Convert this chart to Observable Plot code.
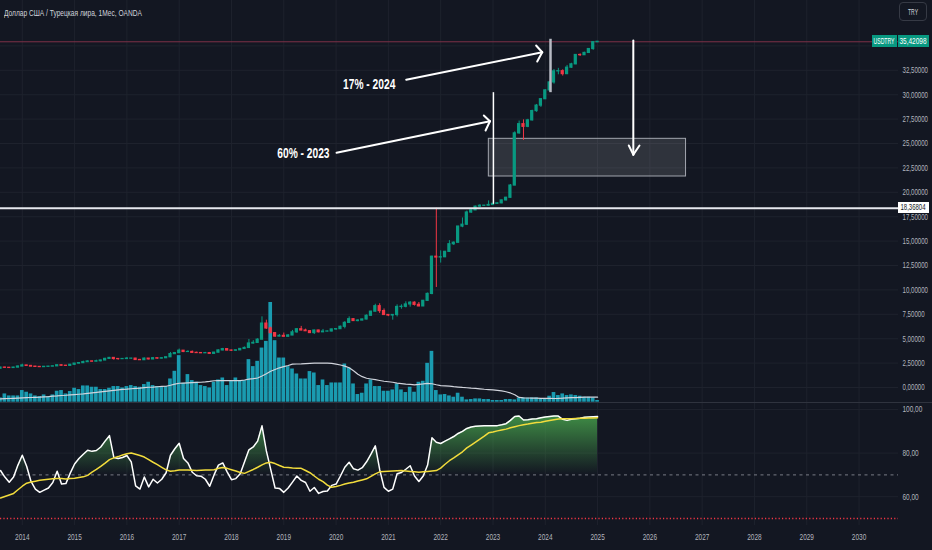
<!DOCTYPE html>
<html><head><meta charset="utf-8">
<script src="https://cdn.jsdelivr.net/npm/d3@7"></script>
<script src="https://cdn.jsdelivr.net/npm/@observablehq/plot@0.6"></script>
<style>
html,body{margin:0;padding:0;background:#131722;}
#chart{position:relative;width:932px;height:550px;background:#131722;overflow:hidden;}
.box{position:absolute;white-space:nowrap;overflow:visible;}
.box span{position:absolute;top:0;white-space:nowrap;}
</style></head>
<body><div id="chart"></div>
<script>
// ---------- DATA (monthly bars, index 0 = Jan 2014, first bar = Aug 2013) ----------
const START = -5;
const yearLabels = [2014,2015,2016,2017,2018,2019,2020,2021,2022,2023,2024,2025,2026,2027,2028,2029,2030];
const yearTickM  = [0,12,24,36,48,60,72,84,96,108,120,132,144,156,168,180,192];
const priceTicks = [0,2.5,5,7.5,10,12.5,15,17.5,20,22.5,25,27.5,30,32.5,35];
const priceLabelTicks = [0,2.5,5,7.5,10,12.5,15,17.5,20,22.5,25,27.5,30,32.5];
const rsiTicks = [60,80,100];

const opens = [1.93,2.04,2.02,2.00,2.04,
 2.15,2.26,2.21,2.14,2.11,2.09,2.12,2.14,2.17,2.28,2.23,2.22,
 2.33,2.45,2.50,2.60,2.67,2.65,2.69,2.77,2.93,3.03,2.92,2.91,
 2.92,2.96,2.96,2.82,2.80,2.96,2.88,3.00,2.96,3.00,3.10,3.42,
 3.52,3.77,3.64,3.64,3.55,3.53,3.51,3.52,3.45,3.57,3.80,3.93,
 3.79,3.77,3.81,3.95,4.05,4.51,4.57,4.90,6.55,6.05,5.57,5.22,
 5.29,5.20,5.33,5.65,5.97,5.84,5.77,5.58,5.84,5.66,5.73,5.74,
 5.95,5.98,6.22,6.62,7.00,6.81,6.86,6.97,7.35,7.77,8.33,7.83,
 7.43,7.38,7.43,8.25,8.27,8.51,8.69,8.47,8.31,8.88,9.59,13.40,
 13.32,13.35,13.90,14.68,14.83,16.49,16.68,17.93,18.15,18.53,18.62,18.63,
 18.70,18.82,18.87,19.17,19.44,20.69,26.04,26.98,26.71,27.37,28.32,28.88,
 29.54,30.44,31.26,32.39,32.41,32.11,32.77,33.11,34.07,34.05,34.28,34.68,
 35.38];
const highs = [2.07,2.08,2.03,2.07,2.20,
 2.39,2.27,2.26,2.16,2.12,2.14,2.16,2.19,2.29,2.30,2.26,2.36,
 2.46,2.52,2.70,2.74,2.72,2.80,2.80,3.00,3.08,3.05,2.93,2.97,
 3.08,2.99,2.98,2.88,3.02,2.97,3.08,3.01,3.04,3.12,3.59,3.59,
 3.94,3.78,3.77,3.74,3.62,3.56,3.60,3.59,3.60,3.85,4.01,3.95,
 3.83,3.83,3.98,4.15,4.92,4.80,5.00,7.24,6.90,6.18,5.62,5.43,
 5.58,5.42,5.85,6.02,6.26,5.98,5.80,5.87,5.86,5.95,5.79,5.98,
 6.01,6.29,6.75,7.24,7.05,6.95,7.01,7.44,7.81,8.53,8.58,8.05,
 7.48,7.47,8.47,8.47,8.78,8.80,8.77,8.71,8.92,9.68,13.45,18.36804,
 14.00,13.95,15.05,14.92,16.51,17.37,18.08,18.18,18.58,18.73,18.66,19.12,
 18.85,18.91,19.20,19.49,20.80,26.20,27.30,27.42,27.48,28.41,29.00,29.60,
 30.51,31.30,32.58,32.70,32.55,33.00,33.22,34.10,34.18,34.35,34.71,35.44,
 35.45];
const lows = [1.92,1.97,1.96,1.98,2.02,
 2.14,2.18,2.14,2.09,2.06,2.07,2.10,2.13,2.15,2.20,2.19,2.20,
 2.25,2.40,2.48,2.58,2.59,2.63,2.63,2.75,2.93,2.80,2.80,2.87,
 2.91,2.89,2.82,2.78,2.80,2.83,2.85,2.90,2.93,2.98,3.09,3.38,
 3.52,3.58,3.59,3.54,3.49,3.48,3.50,3.42,3.39,3.55,3.76,3.76,
 3.70,3.73,3.80,3.93,4.05,4.45,4.55,4.90,5.95,5.57,5.13,5.20,
 5.17,5.18,5.32,5.56,5.81,5.73,5.55,5.43,5.60,5.62,5.70,5.70,
 5.86,5.96,6.01,6.56,6.76,6.73,6.84,6.93,7.31,7.74,7.59,7.40,
 7.26,6.90,7.23,8.02,8.16,8.23,8.35,8.28,8.29,8.86,9.50,10.25,
 12.75,13.30,13.85,14.55,14.80,16.37,16.60,17.84,18.14,18.47,18.56,18.60,
 18.69,18.81,18.83,19.12,19.40,20.68,25.95,25.32,26.62,27.30,28.20,28.70,
 29.50,30.36,31.08,32.04,31.91,32.06,32.70,33.08,33.92,34.03,34.22,34.55,
 35.35];
const closes = [2.04,2.02,2.00,2.04,2.15,
 2.26,2.21,2.14,2.11,2.09,2.12,2.14,2.17,2.28,2.23,2.22,2.33,
 2.45,2.50,2.60,2.67,2.65,2.69,2.77,2.93,3.03,2.92,2.91,2.92,
 2.96,2.96,2.82,2.80,2.96,2.88,3.00,2.96,3.00,3.10,3.42,3.52,
 3.77,3.64,3.64,3.55,3.53,3.51,3.52,3.45,3.57,3.80,3.93,3.79,
 3.77,3.81,3.95,4.05,4.51,4.57,4.90,6.55,6.05,5.57,5.22,5.29,
 5.20,5.33,5.65,5.97,5.84,5.77,5.58,5.84,5.66,5.73,5.74,5.95,
 5.98,6.22,6.62,7.00,6.81,6.86,6.97,7.35,7.77,8.33,7.83,7.43,
 7.38,7.43,8.25,8.27,8.51,8.69,8.47,8.31,8.88,9.59,13.40,13.32,
 13.35,13.90,14.68,14.83,16.49,16.68,17.93,18.15,18.53,18.62,18.63,18.70,
 18.82,18.87,19.17,19.44,20.69,26.04,26.98,26.71,27.37,28.32,28.88,29.54,
 30.44,31.26,32.39,32.41,32.11,32.77,33.11,34.07,34.05,34.28,34.68,35.38,
 35.42098];
// volume, relative units (largest bar = 100)
const volumes = [4.3,8.3,6.3,6.3,6.3,
 11.7,10,8.3,6.3,5.7,7.3,5.7,7.3,11,11.7,8.3,10.7,
 14,12.7,16.3,16.3,15,15,12.7,12.7,14,15.7,15.7,14.3,
 15.7,16.7,15.7,15,17.7,20,16.7,15.7,15.7,15.7,23.3,31,
 46.7,19,27.7,21.7,20,16.7,15.7,14.3,20,22.3,24.3,16.7,
 21,24.3,21,21.7,42.7,35.7,41,54.3,61,100,61.7,44.3,
 44.3,35.7,33.3,28.3,23.3,23.3,30.7,29.3,16.7,22.3,16.7,19.3,
 19.3,19.3,38.3,34.3,18.3,7.7,9,18.3,22.3,15.7,15.7,11,
 11,12.3,18.3,12.3,9.7,15,10,20,21,39,51,11.7,
 7.3,7.7,6.3,5,9,5,2.3,2.7,3.3,3.3,2.7,2.7,
 1.7,1.7,1.7,2.7,2.7,2.3,4.3,4.3,4,4.3,4.3,3.3,
 3.3,6,9.7,6.7,8.3,6.7,7.3,6.7,6,5,5,4.3,
 1.7];
const volumeMA = [3.3,3.5,3.7,3.9,4.1,
 4.3,4.5,4.7,4.9,5.1,5.4,5.6,6.0,6.3,6.7,7.0,7.4,
 7.7,8.0,8.3,8.8,9.3,9.8,10.4,10.9,11.4,11.9,12.4,12.8,
 13.1,13.5,13.9,14.2,14.6,15.0,15.2,15.5,15.8,16.0,17.0,18.2,
 19.0,19.2,19.4,19.6,19.8,20.0,20.4,20.9,21.5,21.7,21.7,21.7,
 21.7,21.7,21.7,22.3,23.1,23.6,24.3,26.3,28.5,31.0,32.8,34.5,
 35.7,36.8,38.2,38.3,38.4,38.7,39.0,39.2,39.3,39.2,39.1,39.0,
 38.2,37.3,36.2,34.6,31.5,28.0,25.6,24.0,23.3,22.6,21.8,21.0,
 20.5,20.0,19.1,18.7,18.2,17.8,17.4,17.8,18.3,18.9,18.5,17.5,
 16.7,16.4,16.1,15.6,15.2,14.8,14.5,14.1,13.8,13.4,13.0,12.7,
 12.3,11.8,11.3,10.5,9.3,7.5,4.8,4.3,4.2,4.1,4.0,3.9,
 3.8,3.8,3.7,3.8,4.0,4.3,4.5,4.6,4.8,5.0,5.0,5.0,
 5.0];
const rsiValues = [72,69,66.6,69,74.5,
 79,74,67,63.5,62,63,64,66.5,71.7,65.8,66,70.8,
 75,77.5,79.5,81.3,80.8,81.2,82.8,85.5,88,78,77.5,78,
 78.9,76,65,63.5,69,64.5,68,66.3,68,71,79,82,
 84.5,77.5,75.5,71.2,69.6,69.4,68,64.8,70,74.5,75.5,71.4,
 67.8,68.3,70.5,76,81.5,82.8,85.5,92.5,81,72.5,64,63.8,
 62,64,66.7,69.5,67.5,66.5,62.5,64.2,61.5,62.4,62.6,65.2,
 65.8,69.5,73.5,75.8,72.8,72.2,73.3,76,79.5,83.3,72.5,64.3,
 62.5,63.5,70.5,71.1,72.6,74.2,69.5,67,69.5,74.5,87,85,
 84.4,85.5,86.5,87.6,89,90,91.3,92,92.3,92.4,92.5,92.5,
 92.6,92.6,93,93.5,95,96.8,97,95.2,95.3,95.6,95.8,96.2,
 96.6,96.8,97,97,95.5,95,95.5,95.8,96,96.5,96.6,96.7,
 96.8];
const rsiMA = [59.4,60.1,60.8,61.5,63.2,
 64.8,66.2,66.7,67.1,67.5,67.8,68.0,68.2,68.4,68.3,68.1,68.3,
 68.5,68.8,69.1,69.8,71.3,72.5,73.9,75.4,77.0,77.8,78.4,79.1,
 79.7,80.0,79.5,78.9,78.2,77.0,75.8,74.7,73.5,72.3,71.7,71.9,
 72.2,72.3,72.2,72.1,72.0,72.1,72.2,72.3,72.4,73.0,73.4,73.0,
 72.4,71.8,71.1,70.7,71.6,72.5,73.5,74.6,75.5,75.8,75.2,74.3,
 73.5,73.4,73.2,73.1,73.0,72.0,71.0,69.5,68.0,66.9,65.3,64.3,
 64.7,65.2,65.8,66.3,66.6,67.2,67.7,68.2,69.3,70.5,71.4,71.6,
 71.7,71.8,71.9,72.0,71.8,71.6,71.4,71.2,71.4,71.6,71.8,72.0,
 73.1,74.9,76.5,77.8,79.2,80.6,82.4,83.7,85.0,86.4,87.8,89.3,
 89.7,90.2,90.6,91.0,91.6,92.1,92.6,93.0,93.3,93.7,94.0,94.2,
 94.6,95.0,95.3,95.6,95.7,95.8,95.8,95.9,96.0,96.0,96.1,96.1,
 96.2];

const lastPrice = 35.42098;
const levelPrice = 18.36804;
// drawings, in chart coordinates [month index, price]
const zone = [[107.05, 152.3, 21.62, 25.48]];
const arrowSegs = [
 [72.1,24.05,107.3,27.28],[105.9,27.87,107.3,27.28],[106.3,26.33,107.3,27.28],
 [88.1,31.53,119.3,34.35],[117.9,35.04,119.3,34.35],[118.15,33.40,119.3,34.35],
 [140.2,35.55,140.2,23.86],[139.17,24.80,140.2,23.86],[141.62,24.80,140.2,23.86]
];
const markerLines = [[108.1,18.82,108.1,30.26,"#ffffff",1.5],[121.2,30.26,121.2,35.73,"#b8bbc4",2.5]];
const notes = [["60% - 2023",64.5,24.0],["17% - 2024",79.6,31.0]];

// ---------- LAYOUT ----------
const W = 932, MR = 34, PRICE_H = 403, RSI_H = 147;
const xDomain = [-5.002, 201.05];
const priceDomain = [-1.639, 39.652];
const rsiDomain = [46.79, 102.75];
const GRID = "#1e222d", TXT = "#b2b5be", UP = "#089981", DOWN = "#f23645";
const FONT = '"Liberation Sans", Arial, sans-serif';
const fmtPrice = v => v.toFixed(5).replace(".", ",");
const fmtRsi = v => v.toFixed(2).replace(".", ",");

const candles = opens.map((o,i)=>({m: START+i, o, h: highs[i], l: lows[i], c: closes[i], col: closes[i] >= o ? UP : DOWN}));
const vol = volumes.map((v,i)=>({m: START+i, v, ma: volumeMA[i]}));
const rsiData = rsiValues.map((r,i)=>({m: START+i, r, ma: rsiMA[i]}));

const chart = document.getElementById("chart");
const base = (h, mb, yDom) => ({
  width: W, height: h, marginTop: 0, marginBottom: mb, marginLeft: 0, marginRight: MR,
  x: {domain: xDomain, axis: null}, y: {domain: yDom, axis: null},
  color: {type: "identity"},
  style: {background: "transparent", color: TXT, fontSize: "9px", fontFamily: FONT, overflow: "visible"}
});
function place(el, top){ el.style.position = "absolute"; el.style.left = "0px"; el.style.top = top + "px"; chart.appendChild(el); return el; }
// narrow the lettering horizontally around each text's own anchor
function condense(svg, k){
  d3.select(svg).selectAll("text").each(function(){
    const t = this.getAttribute("transform");
    if (t) this.setAttribute("transform", `${t} scale(${k},1)`);
    else {
      const x = +this.getAttribute("x") || 0;
      this.setAttribute("transform", `translate(${x * (1 - k)},0) scale(${k},1)`);
    }
  });
}

// grid + price scale
const gridPlot = place(Plot.plot({...base(PRICE_H, 0, priceDomain), marks: [
  Plot.ruleX(yearTickM, {stroke: GRID}),
  Plot.ruleY(priceTicks, {stroke: GRID}),
  Plot.axisY(priceLabelTicks, {anchor: "right", tickSize: 0, tickPadding: 4, tickFormat: fmtPrice, label: null})
]}), 0);
condense(gridPlot, 0.68);

// volume overlay
place(Plot.plot({...base(PRICE_H, 0, [-1.3, 402.9]), marks: [
  Plot.rect(vol, {x1: d => d.m - 0.42, x2: d => d.m + 0.42, y1: d => 0, y2: "v", fill: "#1a9bb0"}),
  Plot.line(vol, {x: "m", y: "ma", stroke: "#d1d4dc", strokeWidth: 1.2})
]}), 0);

// candles + drawings
const pricePlot = place(Plot.plot({...base(PRICE_H, 0, priceDomain), marks: [
  Plot.rect(zone, {x1: d => d[0], x2: d => d[1], y1: d => d[2], y2: d => d[3], fill: "#ffffff", fillOpacity: 0.12, stroke: "#a3a6af", strokeWidth: 1}),
  Plot.ruleY([lastPrice], {stroke: "#7e3147", strokeWidth: 1}),
  Plot.ruleX(candles, {x: "m", y1: "l", y2: "h", stroke: "col", strokeWidth: 1}),
  Plot.rect(candles, {x1: d => d.m - 0.37, x2: d => d.m + 0.37, y1: "o", y2: "c", fill: "col", insetTop: -0.6, insetBottom: -0.6}),
  Plot.ruleY([levelPrice], {stroke: "#e6e8ee", strokeWidth: 2}),
  Plot.link(markerLines, {x1: d => d[0], y1: d => d[1], x2: d => d[2], y2: d => d[3], stroke: d => d[4], strokeWidth: d => d[5]}),
  Plot.link(arrowSegs, {x1: d => d[0], y1: d => d[1], x2: d => d[2], y2: d => d[3], stroke: "#ffffff", strokeWidth: 2, strokeLinecap: "round"}),
  Plot.text(notes, {x: d => d[1], y: d => d[2], text: d => d[0], fill: "#ffffff", fontSize: 14, fontWeight: "bold", fontFamily: FONT})
]}), 0);
condense(pricePlot, 0.73);

// RSI pane
const rsiPlot = place(Plot.plot({...base(RSI_H, 25, rsiDomain), marks: [
  Plot.ruleX(yearTickM, {stroke: GRID}),
  Plot.ruleY(rsiTicks, {stroke: GRID}),
  Plot.ruleY([70], {stroke: "#787b86", strokeDasharray: "3,3.5"}),
  Plot.ruleY([50], {stroke: DOWN, strokeWidth: 1.4, strokeDasharray: "1.2,2.2"}),
  Plot.areaY(rsiData, {x: "m", y1: d => 70, y2: d => Math.max(70, d.r), fill: "url(#obGrad)"}),
  Plot.line(rsiData, {x: "m", y: "r", stroke: "#ffffff", strokeWidth: 1.5}),
  Plot.line(rsiData, {x: "m", y: "ma", stroke: "#f2dc3c", strokeWidth: 1.5}),
  Plot.axisY(rsiTicks, {anchor: "right", tickSize: 0, tickPadding: 4, tickFormat: fmtRsi, label: null}),
  Plot.axisX(yearTickM, {anchor: "bottom", tickSize: 0, tickPadding: 8, tickFormat: (m, i) => String(yearLabels[i]), label: null})
]}), PRICE_H);
condense(rsiPlot, 0.72);
const ry = rsiPlot.scale("y");
d3.select(rsiPlot).insert("defs", ":first-child").html(
  `<linearGradient id="obGrad" gradientUnits="userSpaceOnUse" x1="0" x2="0" y1="${ry.apply(100)}" y2="${ry.apply(70)}">
   <stop offset="0" stop-color="#4caf50" stop-opacity="0.85"/><stop offset="1" stop-color="#4caf50" stop-opacity="0"/></linearGradient>`);

// pane separator
const sep = document.createElement("div");
Object.assign(sep.style, {position: "absolute", left: "0px", top: (PRICE_H - 1) + "px", width: W + "px", height: "1px", background: "#2f333e"});
chart.appendChild(sep);

// HTML labels
const py = pricePlot.scale("y");
function box(text, left, top, w, h, bg, col, targetW, extra, alignLeft){
  const d = document.createElement("div"); d.className = "box";
  Object.assign(d.style, {left: left + "px", top: top + "px", width: w + "px", height: h + "px",
    background: bg, color: col, fontFamily: FONT, fontSize: "9px"}, extra || {});
  const s = document.createElement("span"); s.textContent = text; s.style.lineHeight = h + "px";
  d.appendChild(s); chart.appendChild(d);
  const k = targetW / s.getBoundingClientRect().width;
  if (alignLeft) { s.style.left = "0px"; s.style.transformOrigin = "left center"; s.style.transform = `scaleX(${k})`; }
  else { s.style.left = "50%"; s.style.transformOrigin = "center center"; s.style.transform = `translateX(-50%) scaleX(${k})`; }
  return d;
}
const yl = py.apply(lastPrice);
box("USDTRY", 872, yl - 6.2, 24.5, 12.4, UP, "#ffffff", 21);
box(fmtPrice(lastPrice), 897.6, yl - 6.2, 31, 12.4, UP, "#ffffff", 27);
box(fmtPrice(levelPrice), 897.6, py.apply(levelPrice) - 5.6, 31, 11.2, "#ffffff", "#131722", 25);
box("TRY", 899, 2, 28, 19, "transparent", "#d1d4dc", 10, {border: "1px solid #363a45", borderRadius: "4px", boxSizing: "border-box"});
box("Доллар США / Турецкая лира, 1Мес, OANDA", 4, 7, 150, 12, "transparent", "#d1d4dc", 138, {fontSize: "8.5px"}, true);
</script></body></html>
